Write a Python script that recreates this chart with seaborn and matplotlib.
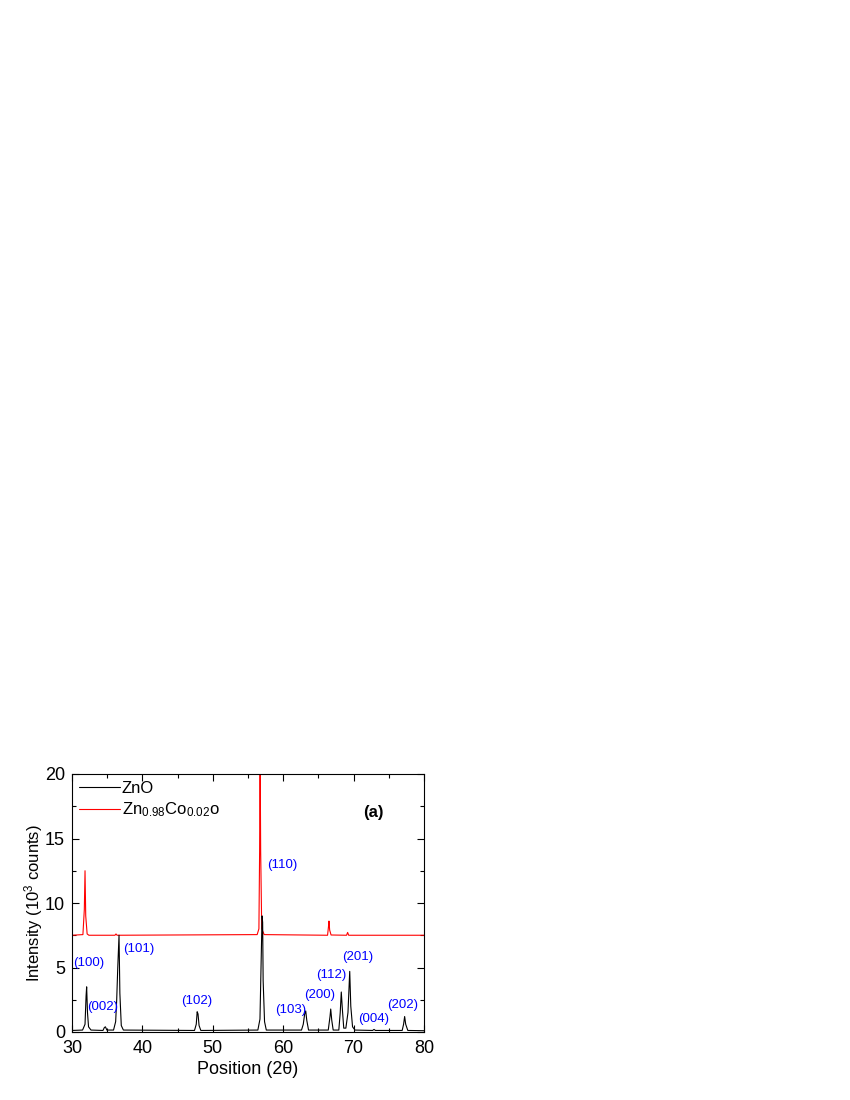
import matplotlib
matplotlib.use("Agg")
import matplotlib.pyplot as plt
import seaborn as sns
import pandas as pd

# ZnO pattern (black)
zno_x = [30.0, 31.5, 31.85, 32.0, 32.08, 32.2, 32.35, 32.7,
         34.4, 34.6, 34.75, 34.95,
         35.9, 36.2, 36.35, 36.5, 36.68, 36.8, 37.0, 37.3,
         47.4, 47.65, 47.78, 47.9, 48.05, 48.3,
         56.4, 56.7, 56.85, 57.0, 57.08, 57.15, 57.35, 57.6,
         62.6, 62.85, 63.05, 63.2, 63.35, 63.6,
         66.4, 66.65, 66.75, 66.9, 67.1,
         67.9, 68.1, 68.25, 68.4, 68.6, 68.9,
         69.2, 69.45, 69.6, 69.85, 70.2,
         72.7, 72.9, 73.1,
         76.9, 77.1, 77.25, 77.4, 77.7, 80.0]
zno_y = [0.12, 0.15, 0.6, 2.8, 3.5, 1.5, 0.4, 0.15,
         0.12, 0.35, 0.4, 0.15,
         0.15, 0.8, 2.5, 5.0, 7.5, 3.0, 0.5, 0.15,
         0.12, 0.6, 1.57, 1.4, 0.5, 0.12,
         0.15, 1.0, 5.0, 9.0, 8.5, 4.0, 0.8, 0.15,
         0.15, 0.6, 1.4, 1.63, 0.9, 0.15,
         0.15, 1.2, 1.78, 0.9, 0.15,
         0.15, 1.5, 3.1, 1.8, 0.3, 0.3,
         1.5, 4.7, 2.0, 0.4, 0.15,
         0.12, 0.2, 0.12,
         0.12, 0.6, 1.2, 0.6, 0.12, 0.1]

# Zn0.98Co0.02O pattern (red)
co_x = [30.0, 31.55, 31.75, 31.85, 31.95, 32.15, 32.4,
        36.1, 36.25, 36.4,
        56.3, 56.55, 56.65, 56.72, 56.8, 56.95, 57.3,
        66.3, 66.42, 66.5, 66.6, 66.8,
        69.0, 69.15, 69.3, 80.0]
co_y = [7.5, 7.55, 9.5, 12.5, 9.0, 7.6, 7.5,
        7.5, 7.6, 7.5,
        7.55, 8.0, 14.0, 22.0, 14.0, 8.0, 7.55,
        7.5, 8.1, 8.6, 7.9, 7.52,
        7.5, 7.72, 7.5, 7.5]

# Miller index labels
hkl_labels = ["(100)", "(002)", "(101)", "(102)", "(110)", "(103)",
              "(200)", "(112)", "(201)", "(004)", "(202)"]
hkl_x = [32.4, 34.3, 39.45, 47.75, 59.8, 61.0, 65.15, 66.85, 70.55, 72.8, 76.95]
hkl_y = [5.35, 1.95, 6.4, 2.4, 12.95, 1.7, 2.85, 4.4, 5.8, 1.0, 2.1]

series_names = ["ZnO", "Zn$_{0.98}$Co$_{0.02}$o"]

sns.set_style("ticks")
plt.rcParams["font.family"] = ["Liberation Sans", "DejaVu Sans"]
plt.rcParams["mathtext.default"] = "regular"
plt.rcParams["text.color"] = "black"
plt.rcParams["axes.labelcolor"] = "black"
plt.rcParams["xtick.color"] = "black"
plt.rcParams["ytick.color"] = "black"
plt.rcParams["axes.edgecolor"] = "black"

fig = plt.figure(figsize=(8.5, 11), dpi=100)
ax = fig.add_axes([72 / 850, 1 - 1032 / 1100, (424 - 72) / 850, (1032 - 774) / 1100])

df_co = pd.DataFrame({"x": co_x, "y": co_y})
df_zno = pd.DataFrame({"x": zno_x, "y": zno_y})
sns.lineplot(data=df_co, x="x", y="y", color="#ff0000", lw=0.8, ax=ax,
             estimator=None, sort=False, label=series_names[1], zorder=2)
sns.lineplot(data=df_zno, x="x", y="y", color="black", lw=0.8, ax=ax,
             estimator=None, sort=False, label=series_names[0], zorder=3)

for t, xx, yy in zip(hkl_labels, hkl_x, hkl_y):
    ax.text(xx, yy, t, color="#0000ff", fontsize=9.5, ha="center", va="center")

ax.text(72.8, 17.05, "(a)", fontsize=12, fontweight="bold", ha="center", va="center")

ax.set_xlim(30, 80)
ax.set_ylim(0, 20)
ax.set_xticks([30, 40, 50, 60, 70, 80])
ax.set_xticks([35, 45, 55, 65, 75], minor=True)
ax.set_yticks([0, 5, 10, 15, 20])
ax.set_yticks([2.5, 7.5, 12.5, 17.5], minor=True)
ax.tick_params(which="both", direction="in", top=True, right=True, labelsize=13, width=0.8)
ax.tick_params(which="major", length=5)
ax.tick_params(which="minor", length=3)
ax.tick_params(axis="x", which="major", pad=5.5)
ax.tick_params(axis="y", which="major", pad=5)
for s in ax.spines.values():
    s.set_linewidth(0.8)

ax.set_xlabel("Position (2θ)", fontsize=13, labelpad=3)
ax.set_ylabel("Intensity (10$^3$ counts)", fontsize=12, labelpad=0)

handles, labels = ax.get_legend_handles_labels()
order = [1, 0]
leg = ax.legend([handles[i] for i in order], [labels[i] for i in order],
                loc="upper left", frameon=False, fontsize=12, handlelength=2.5,
                handletextpad=0.1, borderaxespad=0.2, labelspacing=0.3, borderpad=0.2)
for txt in leg.get_texts():
    txt.set_color("black")

fig.savefig("out.png", dpi=100)
